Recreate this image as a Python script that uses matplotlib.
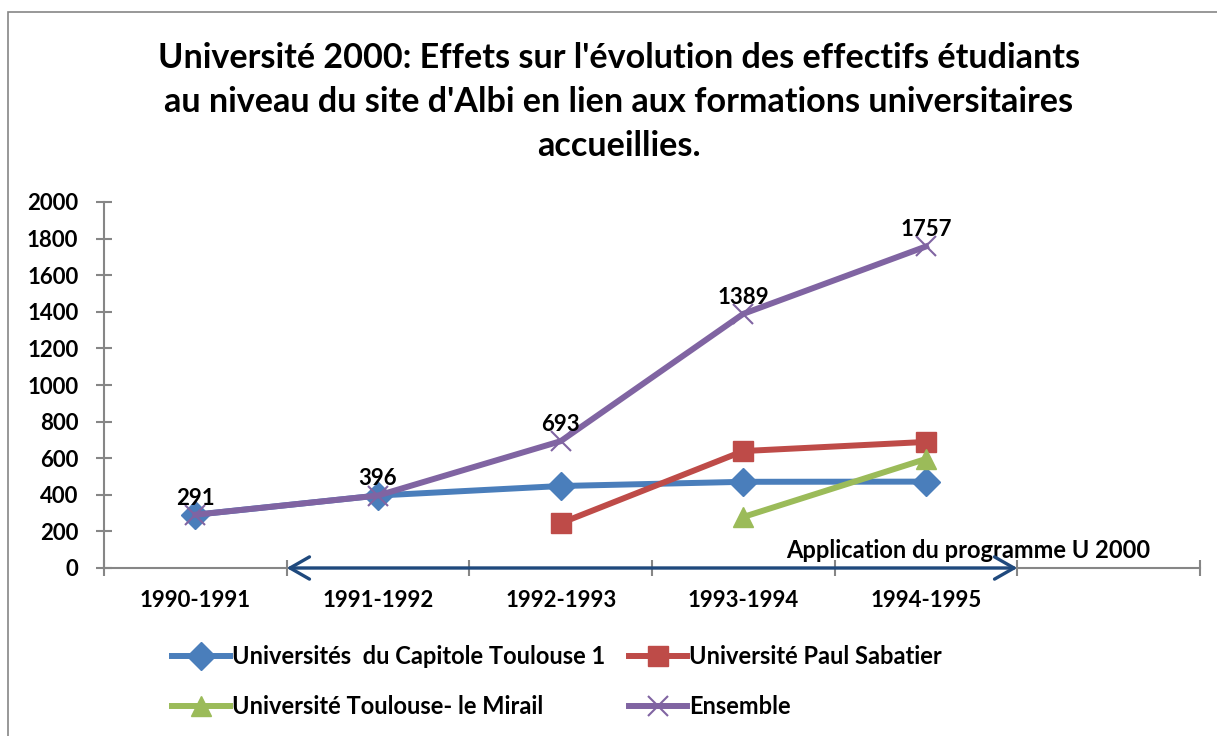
import matplotlib.pyplot as plt
from matplotlib.lines import Line2D
from matplotlib.patches import FancyArrowPatch, Rectangle

plt.rcParams["font.family"] = ["Lato", "DejaVu Sans"]
plt.rcParams["font.weight"] = "bold"

# data
years = ["1990-1991", "1991-1992", "1992-1993", "1993-1994", "1994-1995"]
capitole = [291, 396, 448, 471, 472]
sabatier = [None, None, 245, 639, 689]
mirail = [None, None, None, 279, 596]
ensemble = [291, 396, 693, 1389, 1757]

names = [
    "Universités  du Capitole Toulouse 1",
    "Université Paul Sabatier",
    "Université Toulouse- le Mirail",
    "Ensemble",
]

BLUE = "#4A7EBB"
RED = "#BE4B48"
GREEN = "#9BBB59"
PURPLE = "#8064A2"
NAVY = "#1F497D"
GREY = "#868686"
FS_NUM = 16
FS_TXT = 17


def series(values):
    xs = [i for i, v in enumerate(values) if v is not None]
    ys = [v for v in values if v is not None]
    return xs, ys


fig = plt.figure(figsize=(12.17, 7.36), dpi=100)
ax = fig.add_axes([104 / 1217, 1 - 568 / 736, 1096 / 1217, 366 / 736])

lw = 4.3
styles = [
    dict(color=BLUE, marker="D", ms=14),
    dict(color=RED, marker="s", ms=14),
    dict(color=GREEN, marker="^", ms=15),
    dict(color=PURPLE, marker="x", ms=14, mew=1.5),
]
for vals, st in zip([capitole, sabatier, mirail, ensemble], styles):
    xs, ys = series(vals)
    ax.plot(xs, ys, lw=lw, solid_joinstyle="round", zorder=3, **st)

xs, ys = series(ensemble)
for x, y in zip(xs, ys):
    ax.annotate(str(y), (x, y), xytext=(0, 12), textcoords="offset points",
                ha="center", va="center", fontsize=FS_NUM, fontweight="bold", zorder=5)

# U 2000 programme arrow
arr = FancyArrowPatch((0.5, 0), (4.5, 0), arrowstyle="<->,head_length=0.7,head_width=0.4",
                      mutation_scale=20, color=NAVY, lw=2.4, shrinkA=0, shrinkB=0,
                      clip_on=False, zorder=6)
ax.add_patch(arr)
ax.text(4.23, 98, "Application du programme U 2000", ha="center", va="center",
        fontsize=FS_TXT, fontweight="bold")

ax.set_xlim(-0.5, 5.5)
ax.set_ylim(0, 2000)
ax.set_yticks(range(0, 2001, 200))
ax.set_xticks(range(len(years)))
ax.set_xticklabels(years)
ax.set_xticks([i - 0.5 for i in range(7)], minor=True)
ax.tick_params(axis="x", which="major", length=0, pad=16, labelsize=FS_NUM)
ax.tick_params(axis="x", which="minor", direction="inout", length=11, width=1.5, color=GREY)
ax.tick_params(axis="y", direction="inout", length=11, width=1.5, color=GREY, pad=13,
               labelsize=FS_NUM)
for lab in ax.get_xticklabels() + ax.get_yticklabels():
    lab.set_fontweight("bold")
for side in ["top", "right"]:
    ax.spines[side].set_visible(False)
for side in ["left", "bottom"]:
    ax.spines[side].set_color(GREY)
    ax.spines[side].set_linewidth(1.5)

fig.text(619 / 1217, 1 - 102 / 736,
         "Université 2000: Effets sur l'évolution des effectifs étudiants\n"
         "au niveau du site d'Albi en lien aux formations universitaires\n"
         "accueillies.",
         ha="center", va="center", fontsize=24.6, fontweight="bold", linespacing=1.48)

handles = [Line2D([], [], lw=lw, **st) for st in styles]
# ncol=2 fills column by column; reorder so rows read like the reference
order = [0, 2, 1, 3]
fig.legend([handles[i] for i in order], [names[i] for i in order], ncol=2, frameon=False,
           loc="upper left", bbox_to_anchor=(172 / 1217, 1 - 645 / 736), borderaxespad=0,
           borderpad=0, handlelength=2.45, handletextpad=0.1, columnspacing=1.0,
           labelspacing=1.15, prop={"size": FS_TXT, "weight": "bold"})

fig.patches.append(Rectangle((8 / 1217, -0.1), 1.2, 1.1 - 12 / 736, transform=fig.transFigure,
                             fill=False, edgecolor=GREY, lw=1.2))

fig.savefig("out.png", dpi=100)
